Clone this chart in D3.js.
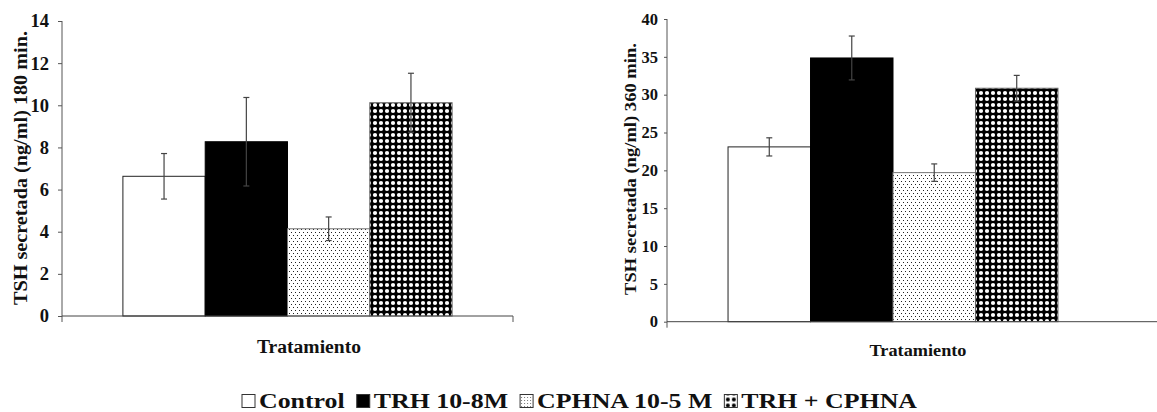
<!DOCTYPE html>
<html><head><meta charset="utf-8">
<script src="https://cdn.jsdelivr.net/npm/d3@7"></script>
<style>
body{margin:0;background:#fff}
svg{display:block}
text{font-family:"Liberation Serif","DejaVu Serif",serif;font-weight:bold;fill:#111}
</style></head>
<body><svg width="1157" height="412"></svg>
<script>
const categories = ["Control", "TRH 10-8M", "CPHNA 10-5 M", "TRH + CPHNA"];
const values180 = [6.63, 8.27, 4.14, 10.12];
const errors180 = [1.08, 2.1, 0.56, 1.4];
const values360 = [23.1, 34.85, 19.7, 30.85];
const errors360 = [1.2, 2.9, 1.15, 1.7];
const ticks180 = [0, 2, 4, 6, 8, 10, 12, 14];
const ticks360 = [0, 5, 10, 15, 20, 25, 30, 35, 40];
const ylabel180 = "TSH secretada (ng/ml) 180 min.";
const ylabel360 = "TSH secretada (ng/ml) 360 min.";
const xlabel = "Tratamiento";

const FONT = '"Liberation Serif","DejaVu Serif",serif';
const svg = d3.select("svg");
const defs = svg.append("defs");

const pd = defs.append("pattern").attr("id","dots").attr("patternUnits","userSpaceOnUse")
  .attr("width",4).attr("height",6);
pd.append("rect").attr("width",4).attr("height",6).attr("fill","#fff");
pd.append("rect").attr("x",1).attr("y",1).attr("width",1).attr("height",1).attr("fill","#222");
pd.append("rect").attr("x",3).attr("y",4).attr("width",1).attr("height",1).attr("fill","#222");

const pc = defs.append("pattern").attr("id","circ").attr("patternUnits","userSpaceOnUse")
  .attr("width",6).attr("height",6);
pc.append("rect").attr("width",6).attr("height",6).attr("fill","#000");
pc.append("circle").attr("cx",3).attr("cy",3).attr("r",2.1).attr("fill","#fff");

const pdl = defs.append("pattern").attr("id","dotsL").attr("patternUnits","userSpaceOnUse")
  .attr("width",3).attr("height",3);
pdl.append("rect").attr("width",3).attr("height",3).attr("fill","#fff");
pdl.append("rect").attr("x",1).attr("y",1).attr("width",1).attr("height",1).attr("fill","#777");
const pcl = defs.append("pattern").attr("id","circL").attr("patternUnits","userSpaceOnUse")
  .attr("width",6).attr("height",6).attr("x",0.5).attr("y",0.5);
pcl.append("rect").attr("width",6).attr("height",6).attr("fill","#fff");
pcl.append("circle").attr("cx",3).attr("cy",3).attr("r",2).attr("fill","#000");

const fills = ["#fff", "#000", "url(#dots)", "url(#circ)"];
const legendFills = ["#fff", "#000", "url(#dotsL)", "url(#circL)"];
const strokes = ["#222", "#000", "#777", "#666"];

function panel(cfg) {
  const g = svg.append("g");
  const x = d3.scaleBand().domain(categories).range([cfg.x0, cfg.x1])
    .paddingInner(0).paddingOuter(0.74);
  const y = d3.scaleLinear().domain([0, d3.max(cfg.ticks)]).range([cfg.yBot, cfg.yTop]);

  g.selectAll("rect.bar").data(categories).enter().append("rect")
    .attr("class","bar")
    .attr("x", d => x(d)).attr("width", x.bandwidth())
    .attr("y", (d,i) => y(cfg.values[i]))
    .attr("height", (d,i) => y(0) - y(cfg.values[i]))
    .attr("fill", (d,i) => fills[i])
    .attr("stroke", (d,i) => strokes[i]).attr("stroke-width", 1);

  const eg = g.selectAll("g.err").data(categories).enter().append("g").attr("class","err");
  eg.append("line")
    .attr("x1", d => x(d) + x.bandwidth()/2).attr("x2", d => x(d) + x.bandwidth()/2)
    .attr("y1", (d,i) => y(cfg.values[i] - cfg.errors[i]))
    .attr("y2", (d,i) => y(cfg.values[i] + cfg.errors[i]))
    .attr("stroke", "#444").attr("stroke-width", 1.2);
  [1, -1].forEach(s => {
    eg.append("line")
      .attr("x1", d => x(d) + x.bandwidth()/2 - 3).attr("x2", d => x(d) + x.bandwidth()/2 + 3)
      .attr("y1", (d,i) => y(cfg.values[i] + s*cfg.errors[i]))
      .attr("y2", (d,i) => y(cfg.values[i] + s*cfg.errors[i]))
      .attr("stroke", "#444").attr("stroke-width", 1.2);
  });

  const ax = g.append("g").attr("transform", `translate(${cfg.x0},0)`)
    .call(d3.axisLeft(y).tickValues(cfg.ticks).tickSize(cfg.tick).tickSizeOuter(0).tickPadding(cfg.pad));
  ax.attr("font-family", null).attr("font-size", null);
  ax.select(".domain").remove();
  ax.selectAll(".tick line").attr("stroke", "#555");
  ax.selectAll(".tick text").style("font-size", cfg.tickFont + "px")
    .style("font-family", FONT).style("font-weight","bold").attr("fill","#111");
  g.append("line").attr("x1", cfg.x0).attr("x2", cfg.x0)
    .attr("y1", cfg.yTop).attr("y2", cfg.yBot + 6).attr("stroke", "#555");
  g.append("line").attr("x1", cfg.x0).attr("x2", cfg.xAxisEnd)
    .attr("y1", cfg.yBot).attr("y2", cfg.yBot).attr("stroke", "#444");
  if (cfg.endTick) {
    g.append("line").attr("x1", cfg.xAxisEnd).attr("x2", cfg.xAxisEnd)
      .attr("y1", cfg.yBot).attr("y2", cfg.yBot + 6).attr("stroke", "#555");
  }

  g.append("text").attr("transform", `translate(${cfg.ylx},${cfg.ylc}) rotate(-90)`)
    .attr("text-anchor","middle").style("font-size", cfg.ylFont + "px")
    .attr("textLength", cfg.ylLen).attr("lengthAdjust", "spacingAndGlyphs").text(cfg.ylabel);
  g.append("text").attr("x", cfg.xlx).attr("y", cfg.xly).attr("text-anchor","middle")
    .style("font-size", cfg.xlFont + "px")
    .attr("textLength", cfg.xlLen).attr("lengthAdjust", "spacingAndGlyphs").text(xlabel);
}

panel({x0:62, x1:513, xAxisEnd:513, endTick:true, yTop:21, yBot:316, ticks:ticks180,
  values:values180, errors:errors180, tick:4, pad:9, tickFont:18.5,
  ylabel:ylabel180, ylx:27, ylc:168, ylLen:274, ylFont:19, xlx:309, xly:353, xlLen:104, xlFont:18.5});
panel({x0:667, x1:1119, xAxisEnd:1157, endTick:false, yTop:19, yBot:321.7, ticks:ticks360,
  values:values360, errors:errors360, tick:3, pad:6, tickFont:16.5,
  ylabel:ylabel360, ylx:636, ylc:169, ylLen:252, ylFont:17.5, xlx:918, xly:356, xlLen:97, xlFont:17});

// legend: fitted to span the reference width
const legendStart = 242, legendEnd = 917, sw = 13, gapText = 4, gapItem = 12;
const lg = svg.append("g");
const items = lg.selectAll("g").data(categories).enter().append("g");
items.append("rect").attr("width", sw).attr("height", sw).attr("y", 394.5)
  .attr("fill", (d,i) => legendFills[i]).attr("stroke", "#333").attr("stroke-width", 1);
const texts = items.append("text").attr("x", sw + gapText).attr("y", 408)
  .style("font-size","20px").text(d => d);
const widths = [];
texts.each(function() { widths.push(this.getComputedTextLength()); });
const natural = d3.sum(widths);
const avail = (legendEnd - legendStart) - categories.length*(sw + gapText) - (categories.length-1)*gapItem;
const k = avail / natural;
texts.attr("textLength", (d,i) => widths[i]*k).attr("lengthAdjust", "spacingAndGlyphs");
let cx = legendStart;
const pos = widths.map(w => { const p = cx; cx += sw + gapText + w*k + gapItem; return p; });
items.attr("transform", (d,i) => `translate(${pos[i]},0)`);
</script></body></html>
